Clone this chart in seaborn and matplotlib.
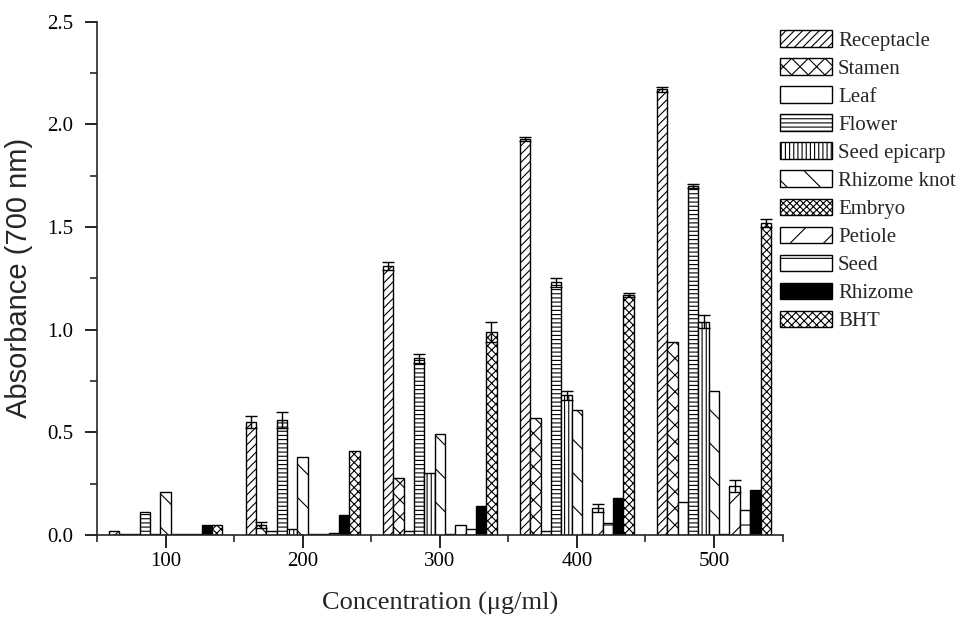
"""
Reducing power of lotus parts vs. BHT: grouped hatched bar chart.
"""

import matplotlib

matplotlib.use("Agg")
import matplotlib.pyplot as plt
import matplotlib.ticker as mticker
import numpy as np
import pandas as pd
import seaborn as sns


# ---------------------------------------------------------------------------
# Data
# ---------------------------------------------------------------------------

concentrations = ["100", "200", "300", "400", "500"]
parts = ["Receptacle", "Stamen", "Leaf", "Flower", "Seed epicarp",
         "Rhizome knot", "Embryo", "Petiole", "Seed", "Rhizome", "BHT"]

receptacle = [0.02, 0.55, 1.31, 1.93, 2.17]
stamen = [0.005, 0.05, 0.28, 0.57, 0.94]
leaf = [0.005, 0.02, 0.02, 0.02, 0.16]
flower = [0.11, 0.56, 0.86, 1.23, 1.70]
seed_epicarp = [0.005, 0.03, 0.30, 0.68, 1.04]
rhizome_knot = [0.21, 0.38, 0.49, 0.61, 0.70]
embryo = [0.005, 0.005, 0.005, 0.005, 0.005]
petiole = [0.005, 0.005, 0.05, 0.13, 0.24]
seed = [0.005, 0.01, 0.03, 0.06, 0.12]
rhizome = [0.05, 0.10, 0.14, 0.18, 0.22]
bht = [0.05, 0.41, 0.99, 1.17, 1.52]

# standard deviations (only the visible ones are non-trivial)
receptacle_err = [0.0, 0.03, 0.02, 0.01, 0.01]
stamen_err = [0.0, 0.015, 0.0, 0.0, 0.0]
leaf_err = [0.0, 0.0, 0.0, 0.0, 0.0]
flower_err = [0.0, 0.04, 0.02, 0.02, 0.01]
seed_epicarp_err = [0.0, 0.0, 0.0, 0.02, 0.03]
rhizome_knot_err = [0.0, 0.0, 0.0, 0.0, 0.0]
embryo_err = [0.0, 0.0, 0.0, 0.0, 0.0]
petiole_err = [0.0, 0.0, 0.0, 0.02, 0.03]
seed_err = [0.0, 0.0, 0.0, 0.0, 0.0]
rhizome_err = [0.0, 0.0, 0.0, 0.0, 0.0]
bht_err = [0.0, 0.0, 0.05, 0.01, 0.02]

values = [receptacle, stamen, leaf, flower, seed_epicarp, rhizome_knot,
          embryo, petiole, seed, rhizome, bht]
errors = [receptacle_err, stamen_err, leaf_err, flower_err, seed_epicarp_err,
          rhizome_knot_err, embryo_err, petiole_err, seed_err, rhizome_err,
          bht_err]

hatches = ["////", "xx", "", "----", "||||", "\\", "xxxxx", "/", "-", "", "xxxx"]
fills = {p: "white" for p in parts}
fills["Rhizome"] = "black"


# ---------------------------------------------------------------------------
# Style
# ---------------------------------------------------------------------------

sns.set_style("ticks")
plt.rcParams.update({
    "font.family": ["Liberation Serif", "DejaVu Serif"],
    "hatch.linewidth": 0.8,
    "axes.linewidth": 1.2,
    "xtick.major.width": 1.2,
    "ytick.major.width": 1.2,
    "xtick.minor.width": 1.2,
    "ytick.minor.width": 1.2,
})


# ---------------------------------------------------------------------------
# Plot
# ---------------------------------------------------------------------------

df = pd.DataFrame({
    "Concentration": np.tile(concentrations, len(parts)),
    "Part": np.repeat(parts, len(concentrations)),
    "Absorbance": np.concatenate(values),
    "sd": np.concatenate(errors),
})

fig = plt.figure(figsize=(9.71, 6.20), dpi=100)
ax = fig.add_axes([0.0999, 0.137, 0.706, 0.828])

sns.barplot(
    data=df, x="Concentration", y="Absorbance", hue="Part",
    order=concentrations, hue_order=parts, palette=fills,
    edgecolor="black", linewidth=1.0, width=0.83, saturation=1,
    errorbar=None, legend=False, ax=ax,
)

# hatches + error bars, from the bars that seaborn laid out
for container, hatch, part in zip(ax.containers, hatches, parts):
    sd = df.loc[df["Part"] == part, "sd"].to_numpy()
    xs, ys = [], []
    for bar in container.patches:
        bar.set_hatch(hatch)
        xs.append(bar.get_x() + bar.get_width() / 2)
        ys.append(bar.get_height())
    xs, ys = np.array(xs), np.array(ys)
    mask = sd > 0
    if mask.any():
        ax.errorbar(xs[mask], ys[mask], yerr=sd[mask], fmt="none",
                    ecolor="black", elinewidth=1.0, capsize=4, capthick=1.0)

ax.set_xlim(-0.5, 4.5)
ax.set_ylim(0, 2.5)
ax.yaxis.set_major_locator(mticker.MultipleLocator(0.5))
ax.yaxis.set_minor_locator(mticker.MultipleLocator(0.25))
ax.yaxis.set_major_formatter(mticker.FormatStrFormatter("%.1f"))
ax.xaxis.set_minor_locator(mticker.FixedLocator(np.arange(-0.5, 5.0, 1.0)))
ax.tick_params(axis="both", which="major", direction="out", length=9,
               labelsize=15, colors="black")
ax.tick_params(axis="y", which="major", pad=8)
ax.tick_params(axis="both", which="minor", direction="out", length=5)
sns.despine(ax=ax)

ax.set_xlabel("Concentration (μg/ml)", fontsize=19, labelpad=15)
ax.set_ylabel("Absorbance (700 nm)", fontsize=21, labelpad=10,
              family=["Liberation Sans", "DejaVu Sans"])

ax.legend(
    ax.containers, parts,
    loc="upper left", bbox_to_anchor=(0.803, 0.951),
    bbox_transform=fig.transFigure, frameon=False, fontsize=15,
    handlelength=2.5, handleheight=0.85, labelspacing=0.36,
    handletextpad=0.3, borderpad=0, borderaxespad=0,
)

fig.savefig("out.png", dpi=100)
